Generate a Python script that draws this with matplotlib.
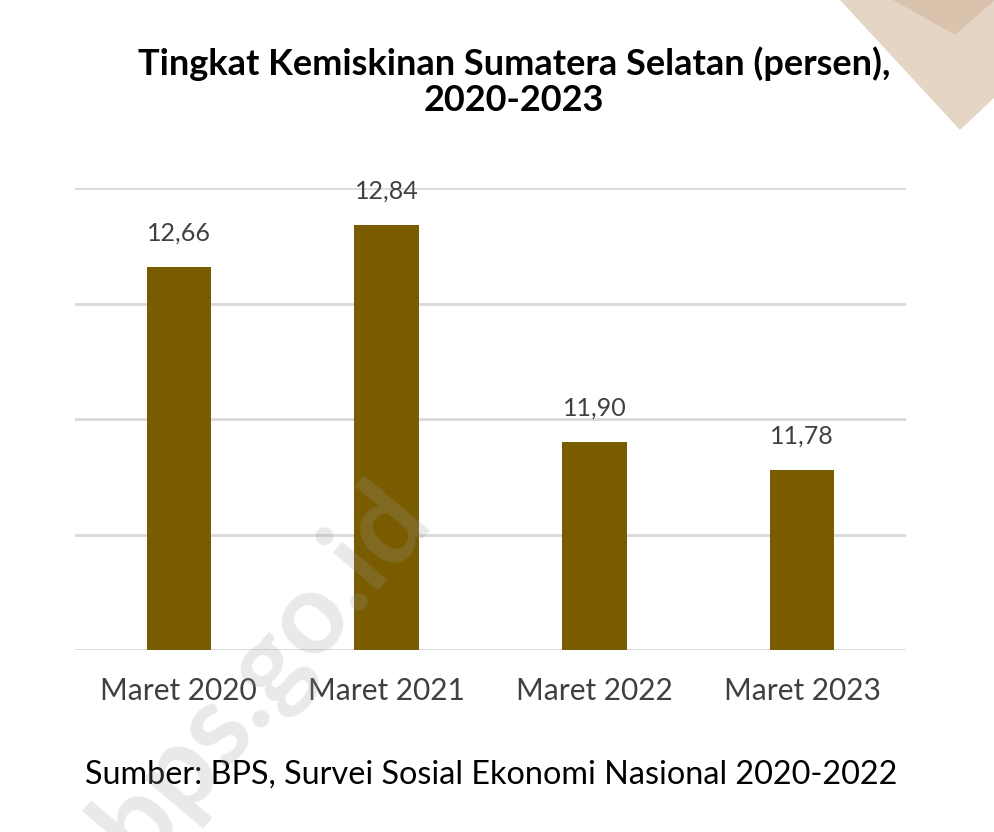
import matplotlib.pyplot as plt
from matplotlib.patches import Polygon

# Data
categories = ["Maret 2020", "Maret 2021", "Maret 2022", "Maret 2023"]
values = [12.66, 12.84, 11.90, 11.78]
value_labels = ["12,66", "12,84", "11,90", "11,78"]

W, H = 995, 832
fig = plt.figure(figsize=(W / 100, H / 100), dpi=100)
fig.patch.set_facecolor("white")


def fx(px):
    return px / W


def fy(py):
    return 1 - py / H


# Decorative corner shapes (top right)
outer = Polygon([(fx(840), fy(0)), (fx(995), fy(0)), (fx(995), fy(97)), (fx(960), fy(130))],
                closed=True, transform=fig.transFigure, facecolor="#e4d5c5", edgecolor="none")
inner = Polygon([(fx(893), fy(0)), (fx(995), fy(0)), (fx(955), fy(35))],
                closed=True, transform=fig.transFigure, facecolor="#d9c3ad", edgecolor="none")
fig.patches.extend([outer, inner])

ax = fig.add_axes([fx(75), fy(650), fx(906) - fx(75), fy(188) - fy(650)])
x = range(len(categories))
ax.bar(x, values, width=0.31, color="#7a5c00", zorder=3)

ax.set_xlim(-0.5, 3.5)
ax.set_ylim(11, 13)
ax.set_yticks([11, 11.5, 12, 12.5, 13])
ax.yaxis.grid(True, color="#d9d9d9", linewidth=2)
ax.tick_params(axis="y", left=False, labelleft=False)
ax.tick_params(axis="x", bottom=False, pad=16)
ax.set_xticks(list(x))
ax.set_xticklabels(categories, fontsize=21.5, color="#404040", family="Lato")
for s in ax.spines.values():
    s.set_visible(False)

for xi, v, lab in zip(x, values, value_labels):
    ax.annotate(lab, (xi, v), xytext=(0, 16), textcoords="offset points",
                ha="center", va="bottom", fontsize=18, color="#404040", family="Lato")

fig.text(fx(514), fy(82), "Tingkat Kemiskinan Sumatera Selatan (persen),\n2020-2023",
         ha="center", va="center", fontsize=26, fontweight="bold", family="Lato",
         color="black", linespacing=1.12)

fig.text(fx(85), fy(775), "Sumber: BPS, Survei Sosial Ekonomi Nasional 2020-2022",
         ha="left", va="center", fontsize=23.3, family="Lato", color="black")

# Watermark
fig.text(fx(262), fy(672), "bps.go.id", rotation=50, ha="center", va="center",
         fontsize=82, fontweight="bold", family="Lato", color="#999999", alpha=0.22, zorder=10)

fig.savefig("out.png", dpi=100)
